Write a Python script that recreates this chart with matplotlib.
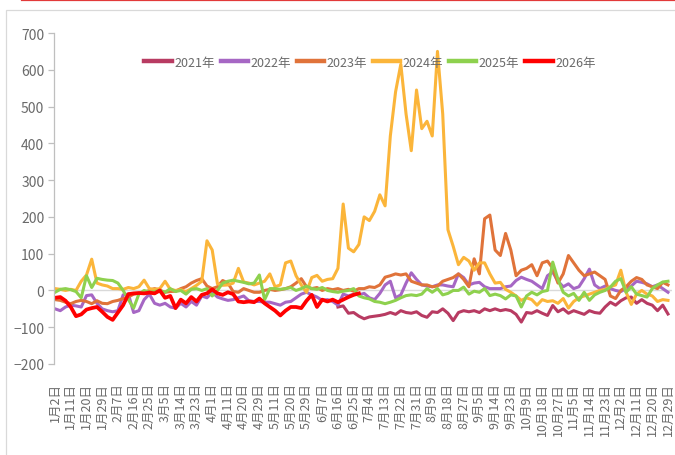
import numpy as np
import matplotlib
matplotlib.use("Agg")
import matplotlib.pyplot as plt
from matplotlib.patches import Rectangle
from matplotlib.lines import Line2D

plt.rcParams['font.family'] = ['Noto Sans CJK SC', 'DejaVu Sans']
plt.rcParams['axes.unicode_minus'] = True

# ---- data (sampled every 3 categories / trading days) ----
STEP = 3
tick_labels = ["1月2日", "1月11日", "1月20日", "1月29日", "2月7日", "2月16日", "2月25日",
               "3月5日", "3月14日", "3月23日", "4月1日", "4月11日", "4月20日", "4月29日",
               "5月11日", "5月20日", "5月29日", "6月7日", "6月16日", "6月25日", "7月4日",
               "7月13日", "7月22日", "7月31日", "8月9日", "8月18日", "8月27日", "9月5日",
               "9月14日", "9月23日", "10月9日", "10月18日", "10月27日", "11月5日", "11月14日",
               "11月23日", "12月2日", "12月11日", "12月20日", "12月29日"]
N_CATEGORIES = 354

s2021 = [None] * 54 + [
    -45, -42, -62, -60, -70, -77, -72, -70, -68, -65, -60, -65, -55, -60, -62, -58,
    -68, -73, -58, -60, -50, -62, -82, -60, -55, -58, -55, -60, -50, -55, -50, -55,
    -52, -55, -65, -86, -60, -62, -55, -62, -68, -41, -58, -50, -62, -55, -60, -65,
    -55, -60, -62, -45, -32, -40, -28, -20, -18, -35, -25, -35, -40, -55, -40, -64]

s2022 = [-50, -55, -45, -40, -42, -45, -14, -12, -35, -50, -55, -58, -55, -12, -10, -60,
         -55, -25, -10, -35, -40, -35, -45, -48, -35, -45, -30, -40, -15, -20, -5, -18,
         -23, -27, -25, -20, -15, -28, -30, -30, -32, -32, -36, -40, -32, -30, -20, -10,
         -5, -12, -18, -27, -25, -30, -40, -10, -15, -10, -12, -8, -20, -25, -8, 15,
         25, -20, -12, 20, 48, 30, 15, 12, 10, 15, 15, 12, 10, 45, 35, 15,
         20, 22, 10, 5, 5, 5, 10, 12, 27, 36, 30, 25, 15, 5, 40, 50,
         25, 10, 18, 5, 10, 32, 58, 15, 5, 12, 5, 0, -3, 5, 12, 25,
         22, 18, 10, 15, 5, -5]

s2023 = [-25, -27, -32, -36, -30, -27, -30, -36, -28, -35, -36, -30, -27, -22, -18, -10,
         -8, -5, 0, 5, 0, -5, -3, -2, 5, 10, 20, 27, 32, 12, 5, 10,
         27, 20, -3, -5, 5, 0, -5, -5, 0, 3, 0, 2, 5, 10, 20, 32,
         10, 5, 8, 0, 5, 2, 5, 0, 3, -2, 5, 5, 10, 8, 15, 36,
         40, 45, 42, 45, 25, 20, 15, 15, 10, 12, 25, 30, 35, 45, 30, 10,
         86, 45, 195, 205, 110, 95, 155, 110, 40, 55, 60, 70, 40, 75, 80, 60,
         20, 45, 95, 75, 55, 40, 45, 50, 40, 30, -15, -22, 0, 10, 25, 35,
         30, 15, 10, 5, 22, 15]

s2024 = [5, 3, 0, 3, 0, 25, 42, 85, 20, 15, 12, 5, 5, 3, 8, 5,
         10, 28, 5, 3, 5, 25, 3, 0, 2, -3, 5, 14, 25, 135, 110, 18,
         14, 15, 20, 60, 23, 20, 15, 20, 25, 45, 10, 15, 75, 80, 40, 15,
         -5, 35, 41, 25, 30, 32, 60, 235, 115, 105, 125, 200, 190, 215, 260, 230,
         420, 540, 615, 480, 380, 545, 440, 460, 420, 650, 480, 165, 120, 70, 90, 80,
         55, 75, 75, 45, 20, 22, 3, -5, -15, -27, -20, -25, -40, -25, -30, -28,
         -35, -22, -48, -30, -20, -15, -10, -5, 0, 3, 10, 15, 55, -5, -38, -10,
         0, -10, -15, -30, -25, -27]

s2025 = [-5, 3, 5, 2, -3, -20, 40, 8, 33, 30, 28, 27, 20, 0, -25, -48,
         -10, 0, -5, -3, 0, -5, 5, -3, 0, -10, 3, 5, 0, 5, -15, 0,
         20, 25, 28, 25, 22, 18, 20, 42, -25, 5, 5, 3, 5, 8, 0, 5,
         12, 5, 3, 8, 0, -3, -5, -2, 0, 5, -15, -20, -23, -30, -32, -36,
         -32, -27, -20, -14, -12, -14, -10, 5, -5, 5, -12, -8, 0, 0, 9, -10,
         -2, -5, 5, -14, -10, -14, -23, -12, -15, -45, -15, -5, -12, -3, 0, 77,
         30, -5, -15, -8, -27, -5, -27, -12, -5, 0, 9, 25, 32, -5, 10, -10,
         -14, -18, 5, 15, 23, 25]

s2026 = [-20, -18, -28, -45, -70, -65, -52, -48, -45, -58, -72, -80, -60, -40, -10, -8,
         -7, -8, -6, -8, 0, -20, -15, -48, -25, -35, -18, -30, -12, -8, 3, -8,
         -12, -5, -10, -30, -32, -30, -32, -22, -35, -45, -55, -68, -55, -45, -45, -48,
         -28, -12, -45, -25, -30, -25, -32, -25, -18, -12, -8]

years = ["2021年", "2022年", "2023年", "2024年", "2025年", "2026年"]
series = [s2021, s2022, s2023, s2024, s2025, s2026]
colors = ["#B83B62", "#A667C4", "#E0733A", "#FBB53A", "#8ED14E", "#FF0000"]
widths = [2.2, 2.2, 2.2, 2.2, 2.2, 2.7]

# ---- figure ----
W, H = 675, 456
fig = plt.figure(figsize=(W / 100, H / 100), dpi=100)

# outer decoration: red top rule and light frame
fig.add_artist(Line2D([22 / W, 1], [1 - 1.2 / H, 1 - 1.2 / H], color="#E23A3A", lw=1.6,
                      transform=fig.transFigure))
fig.add_artist(Rectangle((6 / W, -0.01), 1.0, 1 - 11 / H + 0.01, fill=False,
                         edgecolor="#D9D9D9", lw=0.9, transform=fig.transFigure))

ax = fig.add_axes([54 / W, 1 - 365 / H, (672 - 54) / W, (365 - 34) / H])

ax.axhline(0, color="#D9D9D9", lw=1.0, zorder=1)

for name, vals, c, w in zip(years, series, colors, widths):
    y = np.array([np.nan if v is None else v for v in vals], dtype=float)
    x = np.arange(len(y)) * STEP
    ax.plot(x, y, color=c, lw=w, label=name, solid_joinstyle="round", zorder=2)

ax.set_xlim(-0.6, N_CATEGORIES - 0.7)
ax.set_ylim(-200, 700)
ax.set_yticks(np.arange(-200, 701, 100))
ax.set_xticks(np.arange(len(tick_labels)) * 9)
ax.set_xticklabels(tick_labels, rotation=90, fontsize=9, color="#6A6A6A", va="top")

for s in ["top", "right", "bottom"]:
    ax.spines[s].set_visible(False)
ax.spines["left"].set_color("#BFBFBF")
ax.spines["left"].set_linewidth(0.9)
ax.tick_params(axis="y", direction="out", length=4, width=0.9, color="#BFBFBF",
               labelsize=10, labelcolor="#6A6A6A", pad=3)
ax.tick_params(axis="x", length=0, pad=13)

leg = fig.legend(loc="center", bbox_to_anchor=(370 / W, 1 - 63 / H), ncol=6, frameon=False,
                 fontsize=9, handlelength=2.2, handletextpad=0.2, columnspacing=0.45,
                 labelcolor="#6A6A6A")
for h in leg.legend_handles:
    h.set_linewidth(3.2)

fig.savefig("out.png", dpi=100, facecolor="white")
